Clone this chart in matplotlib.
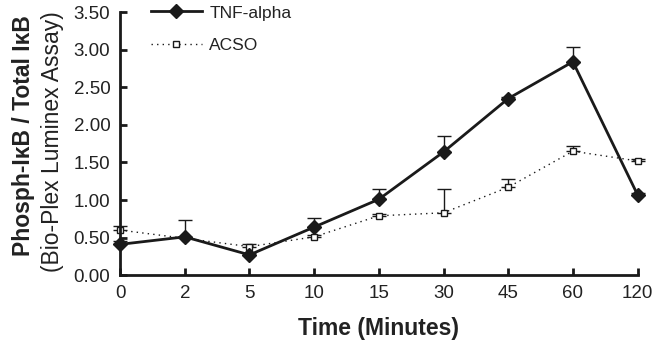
import matplotlib
matplotlib.use("Agg")
import matplotlib.pyplot as plt
from matplotlib.lines import Line2D
import numpy as np

plt.rcParams['font.family'] = ['Liberation Sans', 'DejaVu Sans']

times = ['0', '2', '5', '10', '15', '30', '45', '60', '120']
tnf = [0.41, 0.51, 0.27, 0.64, 1.01, 1.64, 2.35, 2.84, 1.07]
tnf_err = [0.05, 0.22, 0.03, 0.12, 0.13, 0.21, 0.02, 0.20, 0.02]
acso = [0.60, 0.49, 0.38, 0.51, 0.79, 0.83, 1.17, 1.65, 1.52]
acso_err = [0.05, 0.02, 0.03, 0.02, 0.03, 0.32, 0.11, 0.07, 0.02]

x = np.arange(len(times))
ink = '#1a1a1a'

fig = plt.figure(figsize=(6.6, 3.47), dpi=100)
ax = fig.add_axes([0.182, 0.207, 0.784, 0.758])

ax.errorbar(x, tnf, yerr=[np.zeros(len(tnf)), tnf_err], color=ink, lw=2,
            marker='D', ms=7, capsize=5, elinewidth=1, capthick=1, zorder=3,
            clip_on=False)
ax.errorbar(x, acso, yerr=[np.zeros(len(acso)), acso_err], color=ink, lw=1,
            ls=(0, (1, 3)), marker='s', ms=5, mfc='white', mew=1, capsize=5,
            elinewidth=1, capthick=1, zorder=2, clip_on=False)

ax.set_xlim(0, len(times) - 1)
ax.set_ylim(0, 3.5)
ax.set_xticks(x)
ax.set_xticklabels(times)
yt = np.arange(0, 3.51, 0.5)
ax.set_yticks(yt)
ax.set_yticklabels(['%.2f' % v for v in yt])
ax.tick_params(direction='in', length=5, width=2, labelsize=13.5, colors=ink, pad=7)
for lb in ax.get_xticklabels() + ax.get_yticklabels():
    lb.set_color('#222222')
for s in ['top', 'right']:
    ax.spines[s].set_visible(False)
for s in ['left', 'bottom']:
    ax.spines[s].set_linewidth(2)
    ax.spines[s].set_color(ink)

ax.set_xlabel('Time (Minutes)', fontsize=16.5, fontweight='bold', labelpad=11, color='#222222')
fig.text(0.036, 0.608, 'Phosph-I\u03baB / Total I\u03baB', rotation=90, fontsize=16.5,
         fontweight='bold', ha='center', va='center', color='#222222')
fig.text(0.080, 0.592, '(Bio-Plex Luminex Assay)', rotation=90, fontsize=16.5,
         ha='center', va='center', color='#222222')

handles = [
    Line2D([], [], color=ink, lw=2, marker='D', ms=7),
    Line2D([], [], color=ink, lw=1, ls=(0, (1, 3)), marker='s', ms=5, mfc='white', mew=1),
]
ax.legend(handles, ['TNF-alpha', 'ACSO'], loc='upper left', bbox_to_anchor=(0.03, 1.085),
          frameon=False, fontsize=12.5, handlelength=2.9, handletextpad=0.45,
          labelspacing=1.0, labelcolor='#222222')

fig.savefig('out.png', dpi=100)
